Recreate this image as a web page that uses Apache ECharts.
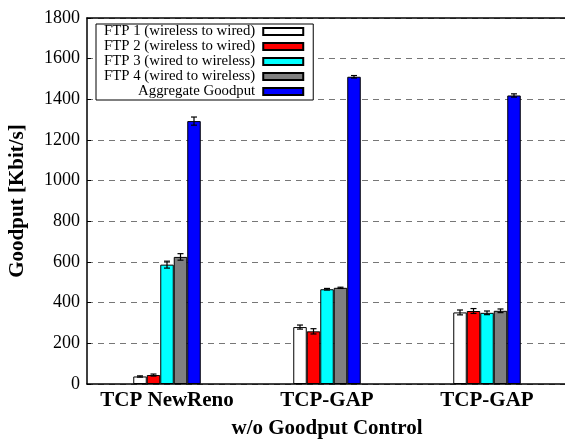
<!DOCTYPE html>
<html>
<head>
<meta charset="utf-8">
<script src="https://cdn.jsdelivr.net/npm/echarts@6/dist/echarts.min.js"></script>
<style>
  html, body { margin: 0; padding: 0; background: #fff; }
  #main { width: 565px; height: 439px; }
</style>
</head>
<body>
<div id="main"></div>
<script>
var categories = ['TCP NewReno', 'TCP-GAP\nw/o Goodput Control', 'TCP-GAP'];
var seriesNames = [
    'FTP 1 (wireless to wired)',
    'FTP 2 (wireless to wired)',
    'FTP 3 (wired to wireless)',
    'FTP 4 (wired to wireless)',
    'Aggregate Goodput'
];
var seriesColors = ['#ffffff', '#ff0000', '#00ffff', '#808080', '#0000ff'];

// goodput values per series [NewReno, GAP w/o control, GAP]
var ftp1 = [37, 280, 352];
var ftp2 = [44, 259, 359];
var ftp3 = [587, 466, 350];
var ftp4 = [625, 473, 360];
var aggregate = [1293, 1511, 1419];

// error bar half widths
var ftp1Err = [3, 10, 12];
var ftp2Err = [5, 13, 12];
var ftp3Err = [17, 4, 9];
var ftp4Err = [16, 3, 9];
var aggregateErr = [20, 6, 8];

var yTicks = { min: 0, max: 1800, step: 200 };

var allValues = [ftp1, ftp2, ftp3, ftp4, aggregate];
var allErrors = [ftp1Err, ftp2Err, ftp3Err, ftp4Err, aggregateErr];

var barW = 13.5;
var font = 'Liberation Serif';

var chart = echarts.init(document.getElementById('main'));

var series = [];
for (var k = 0; k < allValues.length; k++) {
    series.push({
        name: seriesNames[k],
        type: 'bar',
        data: allValues[k],
        barWidth: barW,
        barGap: '0%',
        z: 2,
        itemStyle: {
            color: seriesColors[k],
            borderColor: '#000',
            borderWidth: 1
        }
    });
}

var errData = [];
for (var k = 0; k < allValues.length; k++) {
    for (var i = 0; i < categories.length; i++) {
        errData.push([i, allValues[k][i], allErrors[k][i], k]);
    }
}

function renderError(params, api) {
    var cat = api.value(0);
    var v = api.value(1);
    var e = api.value(2);
    var k = api.value(3);
    var base = api.coord([cat, v]);
    var x = base[0] + (k - 2) * barW;
    var hi = api.coord([cat, v + e])[1];
    var lo = api.coord([cat, v - e])[1];
    var st = { stroke: '#000', lineWidth: 1.2 };
    return {
        type: 'group',
        children: [
            { type: 'line', shape: { x1: x, y1: hi, x2: x, y2: lo }, style: st },
            { type: 'line', shape: { x1: x - 3, y1: hi, x2: x + 3, y2: hi }, style: st },
            { type: 'line', shape: { x1: x - 3, y1: lo, x2: x + 3, y2: lo }, style: st }
        ]
    };
}

series.push({
    type: 'custom',
    name: 'err',
    renderItem: renderError,
    data: errData,
    encode: { x: 0, y: 1 },
    z: 3,
    silent: true
});

var option = {
    backgroundColor: '#fff',
    animation: false,
    textStyle: { fontFamily: font },
    grid: { left: 87, top: 18, width: 480, height: 366, outerBoundsMode: 'none', containLabel: false },
    legend: {
        data: seriesNames,
        orient: 'vertical',
        align: 'right',
        icon: 'rect',
        left: 96,
        top: 24,
        itemWidth: 40,
        itemHeight: 7,
        itemGap: 0,
        padding: [0, 9, 1, 8],
        backgroundColor: '#fff',
        borderColor: '#000',
        borderWidth: 1,
        borderRadius: 0,
        z: 5,
        textStyle: {
            fontFamily: font,
            fontSize: 14.8,
            lineHeight: 14.9,
            color: '#000',
            padding: [0, 3, 0, 0]
        }
    },
    xAxis: [{
        type: 'category',
        data: categories,
        z: 3,
        axisLine: { lineStyle: { color: '#000', width: 1.5 } },
        axisTick: { show: false },
        axisLabel: {
            color: '#000',
            fontFamily: font,
            fontSize: 21,
            fontWeight: 'bold',
            lineHeight: 28,
            margin: 3,
            interval: 0
        }
    }, {
        type: 'category',
        data: categories,
        position: 'top',
        z: 3,
        axisLine: { lineStyle: { color: '#000', width: 1.5 } },
        axisTick: { show: false },
        axisLabel: { show: false }
    }],
    yAxis: {
        type: 'value',
        min: yTicks.min,
        max: yTicks.max,
        interval: yTicks.step,
        z: 1,
        name: 'Goodput [Kbit/s]',
        nameLocation: 'middle',
        nameRotate: 90,
        nameGap: 59,
        nameTextStyle: {
            color: '#000',
            fontFamily: font,
            fontSize: 21,
            fontWeight: 'bold'
        },
        axisLine: { show: true, lineStyle: { color: '#000', width: 1.5 } },
        axisTick: { show: true, inside: true, length: 4, lineStyle: { color: '#000' } },
        axisLabel: {
            color: '#000',
            fontFamily: font,
            fontSize: 18,
            margin: 7,
            formatter: function (v) { return String(v); }
        },
        splitLine: {
            show: true,
            lineStyle: { color: '#777', type: [6, 5], width: 1 }
        }
    },
    series: series
};

chart.setOption(option);
</script>
</body>
</html>
